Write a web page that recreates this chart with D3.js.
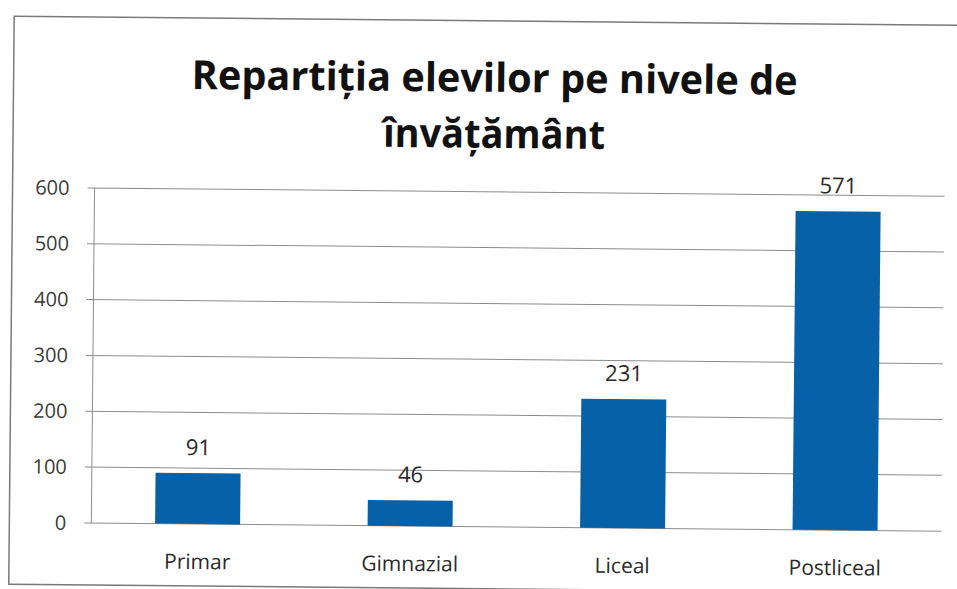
<!DOCTYPE html>
<html>
<head>
<meta charset="utf-8">
<script src="https://cdn.jsdelivr.net/npm/d3@7"></script>
<style>
  body { margin: 0; background: #fff; }
  svg { display: block; }
</style>
</head>
<body>
<div id="chart"></div>
<script>
const categories = ["Primar", "Gimnazial", "Liceal", "Postliceal"];
const values = [91, 46, 231, 571];
const yTicks = [0, 100, 200, 300, 400, 500, 600];
const titleLines = ["Repartiția elevilor pe nivele de", "învățământ"];

const W = 957, H = 589;
const margin = {top: 189, right: 14, bottom: 63, left: 93};

const svg = d3.select("#chart").append("svg")
    .attr("width", W).attr("height", H);

// scan is slightly tilted
const g = svg.append("g").attr("transform", "rotate(0.55, 93, 350)");

// outer frame
g.append("rect")
    .attr("x", 11).attr("y", 17)
    .attr("width", W + 20).attr("height", 568)
    .attr("fill", "none").attr("stroke", "#7a7a7a").attr("stroke-width", 1.5);

const x = d3.scaleBand().domain(categories)
    .range([margin.left, W - margin.right])
    .paddingInner(0.6).paddingOuter(0.3);
const y = d3.scaleLinear().domain([0, 600])
    .range([H - margin.bottom - 3, margin.top - 1]);

// gridlines
g.append("g").selectAll("line").data(yTicks).join("line")
    .attr("x1", margin.left - 7).attr("x2", W - margin.right)
    .attr("y1", d => y(d)).attr("y2", d => y(d))
    .attr("stroke", "#8c8c8c").attr("stroke-width", 1);

// y axis line
g.append("line")
    .attr("x1", margin.left).attr("x2", margin.left)
    .attr("y1", y(600)).attr("y2", y(0))
    .attr("stroke", "#8c8c8c");

g.append("g").selectAll("text").data(yTicks).join("text")
    .attr("x", 68).attr("y", d => y(d))
    .attr("dy", "0.35em").attr("text-anchor", "end")
    .style("font-family", "'Open Sans', sans-serif").style("font-size", "20px")
    .style("fill", "#3a3a3a")
    .text(d => d);

// bars
g.selectAll("rect.bar").data(values).join("rect")
    .attr("class", "bar")
    .attr("x", (d, i) => x(categories[i]))
    .attr("y", d => y(d))
    .attr("width", x.bandwidth())
    .attr("height", d => y(0) - y(d))
    .attr("fill", "#0761a8");

// value labels
g.selectAll("text.val").data(values).join("text")
    .attr("class", "val")
    .attr("x", (d, i) => x(categories[i]) + x.bandwidth() / 2)
    .attr("y", d => y(d) - 18)
    .attr("text-anchor", "middle")
    .style("font-family", "'Open Sans', sans-serif").style("font-size", "22px")
    .style("fill", "#2a2a2a")
    .text(d => d);

// category labels
g.selectAll("text.cat").data(categories).join("text")
    .attr("class", "cat")
    .attr("x", d => x(d) + x.bandwidth() / 2)
    .attr("y", y(0) + 45)
    .attr("text-anchor", "middle")
    .style("font-family", "'Open Sans', sans-serif").style("font-size", "21px")
    .style("fill", "#2a2a2a")
    .text(d => d);

// title
g.selectAll("text.title").data(titleLines).join("text")
    .attr("class", "title")
    .attr("x", 492)
    .attr("y", (d, i) => 88 + i * 56)
    .attr("text-anchor", "middle")
    .style("font-family", "'Open Sans', sans-serif").style("font-weight", "bold")
    .style("font-size", "40px").style("fill", "#111")
    .attr("textLength", (d, i) => i === 0 ? 606 : 222)
    .attr("lengthAdjust", "spacingAndGlyphs")
    .text(d => d);
</script>
</body>
</html>
